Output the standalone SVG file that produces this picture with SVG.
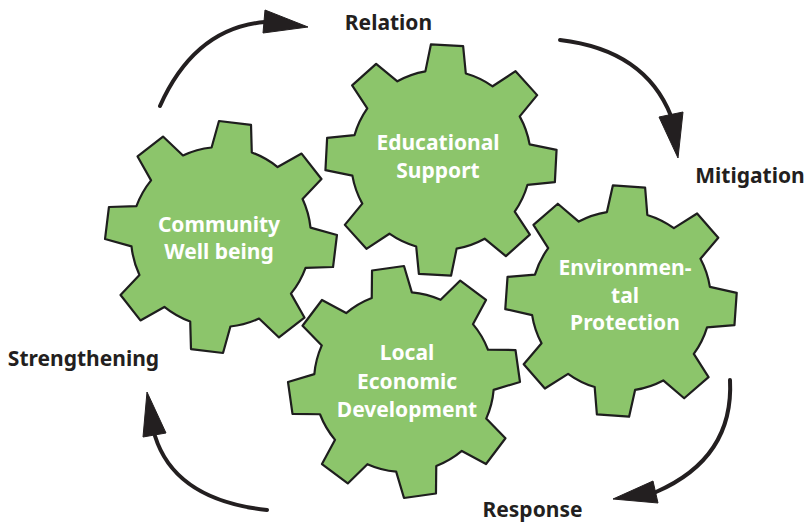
<svg xmlns="http://www.w3.org/2000/svg" xmlns:xlink="http://www.w3.org/1999/xlink" width="808" height="522" viewBox="0 0 808 522">
<style>
.gear{fill:#8cc56b;stroke:#1e1e1e;stroke-width:2.2;stroke-linejoin:round}
.gt{fill:#ffffff;font-family:"Noto Sans","Open Sans",sans-serif;font-weight:700;font-size:21px;text-anchor:middle}
.lb{fill:#231f20;font-family:"Noto Sans","Open Sans",sans-serif;font-weight:700;font-size:21px;text-anchor:middle}
.arc{fill:none;stroke:#231f20;stroke-width:4;stroke-linecap:round}
.head{fill:#231f20;stroke:#231f20;stroke-width:1;stroke-linejoin:round}
</style>
<defs>
<path id="gearShape" d="M -20.25 -87.69 L -16.14 -114.87 L 16.14 -114.87 L 20.25 -87.69 A 90 90 0 0 1 47.69 -76.32 L 69.81 -92.64 L 92.64 -69.81 L 76.32 -47.69 A 90 90 0 0 1 87.69 -20.25 L 114.87 -16.14 L 114.87 16.14 L 87.69 20.25 A 90 90 0 0 1 76.32 47.69 L 92.64 69.81 L 69.81 92.64 L 47.69 76.32 A 90 90 0 0 1 20.25 87.69 L 16.14 114.87 L -16.14 114.87 L -20.25 87.69 A 90 90 0 0 1 -47.69 76.32 L -69.81 92.64 L -92.64 69.81 L -76.32 47.69 A 90 90 0 0 1 -87.69 20.25 L -114.87 16.14 L -114.87 -16.14 L -87.69 -20.25 A 90 90 0 0 1 -76.32 -47.69 L -92.64 -69.81 L -69.81 -92.64 L -47.69 -76.32 A 90 90 0 0 1 -20.25 -87.69 Z"/>
</defs>
<rect width="808" height="522" fill="#ffffff"/>
<g id="connectors">
<path class="arc" d="M160 106 Q 195 28 265 22"/>
<polygon class="head" points="265,10 308,27 263,33"/>
<path class="arc" d="M560 40 Q 645 50 671 116"/>
<polygon class="head" points="659,117 683,112 678,158"/>
<path class="arc" d="M730 380 Q 734 458 656 492"/>
<polygon class="head" points="653,481 613,499 658,503"/>
<path class="arc" d="M267 510 Q 175 500 155 436"/>
<polygon class="head" points="143,437 147,392 166,433"/>
</g>
<g id="community">
<use xlink:href="#gearShape" class="gear" transform="translate(221,237) rotate(7)"/>
<text class="gt" x="219" y="232">Community</text>
<text class="gt" x="219" y="259">Well being</text>
</g>
<g id="educational">
<use xlink:href="#gearShape" class="gear" transform="translate(441,160) rotate(3)"/>
<text class="gt" x="438" y="150">Educational</text>
<text class="gt" x="438" y="178">Support</text>
</g>
<g id="environmental">
<use xlink:href="#gearShape" class="gear" transform="translate(621,301) rotate(4)"/>
<text class="gt" x="625" y="275">Environmen-</text>
<text class="gt" x="625" y="303">tal</text>
<text class="gt" x="625" y="330">Protection</text>
</g>
<g id="local">
<use xlink:href="#gearShape" class="gear" transform="translate(404,382) rotate(-8)"/>
<text class="gt" x="407" y="360">Local</text>
<text class="gt" x="407" y="389">Economic</text>
<text class="gt" x="407" y="417">Development</text>
</g>
<g id="labels">
<text class="lb" x="388.5" y="30">Relation</text>
<text class="lb" x="750" y="183">Mitigation</text>
<text class="lb" x="83.5" y="366">Strengthening</text>
<text class="lb" x="532.5" y="517">Response</text>
</g>
</svg>
